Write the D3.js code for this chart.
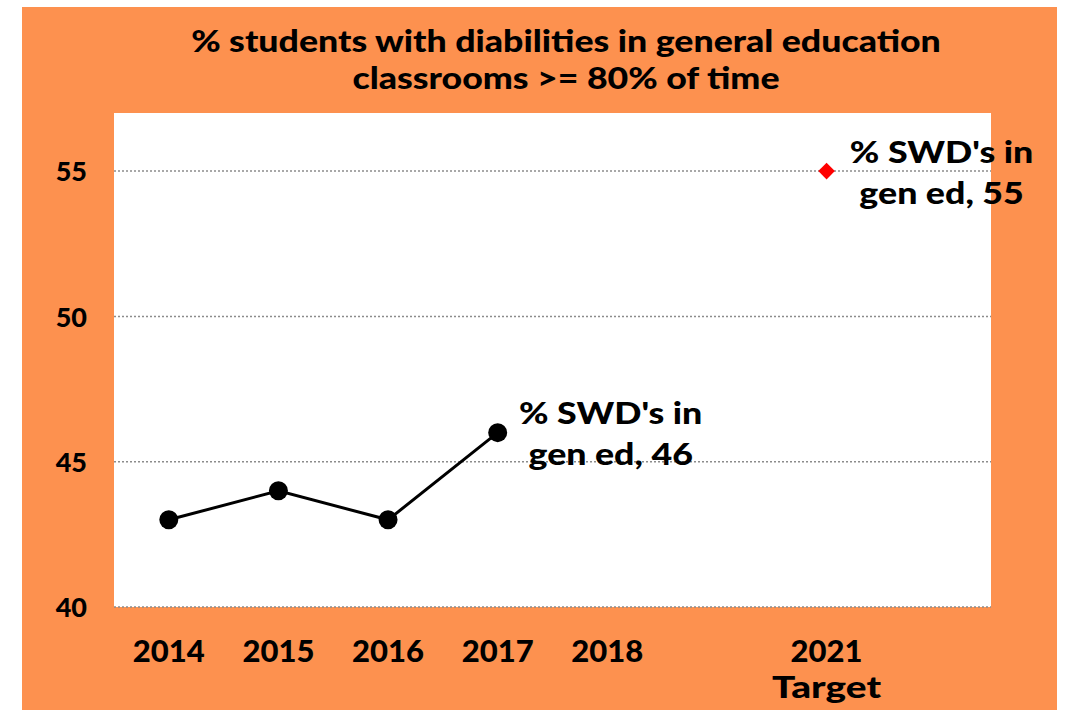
<!DOCTYPE html>
<html lang="en">
    <head>
        <meta charset="utf-8">
        <title>SWD in general education</title>
        <script src="https://d3js.org/d3.v7.min.js"></script>
        <style>
            body { margin: 0; background: #fff; }
            text { font-family: Lato, "Open Sans", sans-serif; font-weight: 900; fill: #000; }
        </style>
    </head>

    <body>
        <div id="div-1"></div>

        <script>
            // chart data
            var categories = ["2014", "2015", "2016", "2017", "2018", "gap1", "2021", "gap2"];
            var tickLabels = [["2014"], ["2015"], ["2016"], ["2017"], ["2018"], [""], ["2021", "Target"], [""]];
            var actualYears = ["2014", "2015", "2016", "2017"];
            var actualValues = [43, 44, 43, 46];
            var targetYears = ["2021"];
            var targetValues = [55];
            var yTicks = [40, 45, 50, 55];
            var seriesName = "% SWD's in";
            var titleLines = ["% students with diabilities in general education", "classrooms >= 80% of time"];

            var W = 1071, H = 710;
            var plot = {left: 114, top: 113, right: 991, bottom: 607};

            var svg = d3.select("#div-1")
                        .append("svg")
                        .attr("width", W)
                        .attr("height", H);

            // widen text a bit, the original font is broader than Lato
            function widen(sel, k){
                sel.each(function(){
                    var w = this.getComputedTextLength();
                    d3.select(this)
                        .attr("textLength", w * k)
                        .attr("lengthAdjust", "spacingAndGlyphs");
                });
            }

            // orange background
            svg.append("rect")
                .attr("x", 22).attr("y", 7)
                .attr("width", 1035).attr("height", H - 7)
                .style("fill", "#fd914f");

            // white plot area
            svg.append("rect")
                .attr("x", plot.left).attr("y", plot.top)
                .attr("width", plot.right - plot.left)
                .attr("height", plot.bottom - plot.top)
                .style("fill", "#fff");

            var x = d3.scaleBand()
                    .domain(categories)
                    .range([plot.left, plot.right]);

            var y = d3.scaleLinear()
                    .domain([40, 57])
                    .range([plot.bottom, plot.top]);

            var cx = function(c){ return x(c) + x.bandwidth() / 2; };

            // title
            svg.append("g").selectAll("text")
                .data(titleLines)
                .enter()
                .append("text")
                .attr("x", 566)
                .attr("y", function(d, i){ return 52 + i * 37; })
                .attr("text-anchor", "middle")
                .style("font-size", "31px")
                .text(function(d){ return d; })
                .call(widen, 1.15);

            // gridlines
            svg.append("g").selectAll("line")
                .data(yTicks)
                .enter()
                .append("line")
                .attr("x1", plot.left).attr("x2", plot.right)
                .attr("y1", function(d){ return y(d); })
                .attr("y2", function(d){ return y(d); })
                .attr("stroke", "#8c8c8c")
                .attr("stroke-width", 1.5)
                .attr("stroke-dasharray", "2,2");

            // y axis
            var yAxis = svg.append("g")
                .attr("transform", "translate(" + plot.left + ",0)")
                .call(d3.axisLeft(y).tickValues(yTicks).tickSize(0).tickPadding(27));
            yAxis.select(".domain").remove();
            yAxis.selectAll("text")
                .style("font-size", "27px")
                .attr("dy", "0.36em");

            // x axis
            var xAxis = svg.append("g")
                .attr("transform", "translate(0," + plot.bottom + ")")
                .call(d3.axisBottom(x).tickSize(0).tickFormat(""));
            xAxis.select(".domain").remove();
            xAxis.selectAll(".tick").each(function(d, i){
                d3.select(this).selectAll("text.lbl")
                    .data(tickLabels[i])
                    .enter()
                    .append("text")
                    .attr("class", "lbl")
                    .attr("y", function(t, j){ return 55 + j * 36; })
                    .attr("text-anchor", "middle")
                    .style("font-size", "31px")
                    .text(function(t){ return t; });
            });
            xAxis.selectAll("text.lbl").filter(function(t){ return t === "Target"; }).call(widen, 1.25);

            // actual line
            var actual = actualYears.map(function(c, i){ return {c: c, v: actualValues[i]}; });
            var line = d3.line()
                .x(function(d){ return cx(d.c); })
                .y(function(d){ return y(d.v); });

            svg.append("path")
                .datum(actual)
                .attr("d", line)
                .attr("fill", "none")
                .attr("stroke", "#000")
                .attr("stroke-width", 3);

            svg.append("g").selectAll("circle")
                .data(actual)
                .enter()
                .append("circle")
                .attr("cx", function(d){ return cx(d.c); })
                .attr("cy", function(d){ return y(d.v); })
                .attr("r", 9.5)
                .attr("fill", "#000");

            // target point
            var target = targetYears.map(function(c, i){ return {c: c, v: targetValues[i]}; });
            svg.append("g").selectAll("path")
                .data(target)
                .enter()
                .append("path")
                .attr("d", d3.symbol().type(d3.symbolDiamond2).size(175))
                .attr("transform", function(d){ return "translate(" + cx(d.c) + "," + y(d.v) + ")"; })
                .attr("fill", "#ff0000");

            // data labels
            function addLabel(d, dx, dy){
                var g = svg.append("g");
                g.append("text")
                    .attr("x", cx(d.c) + dx).attr("y", y(d.v) + dy)
                    .attr("text-anchor", "middle")
                    .style("font-size", "30px")
                    .text(seriesName);
                g.append("text")
                    .attr("x", cx(d.c) + dx).attr("y", y(d.v) + dy + 41)
                    .attr("text-anchor", "middle")
                    .style("font-size", "30px")
                    .text("gen ed, " + d.v);
                g.selectAll("text").call(widen, 1.19);
            }
            addLabel(actual[actual.length - 1], 113, -9);
            addLabel(target[0], 115, -8);
        </script>
    </body>
</html>
